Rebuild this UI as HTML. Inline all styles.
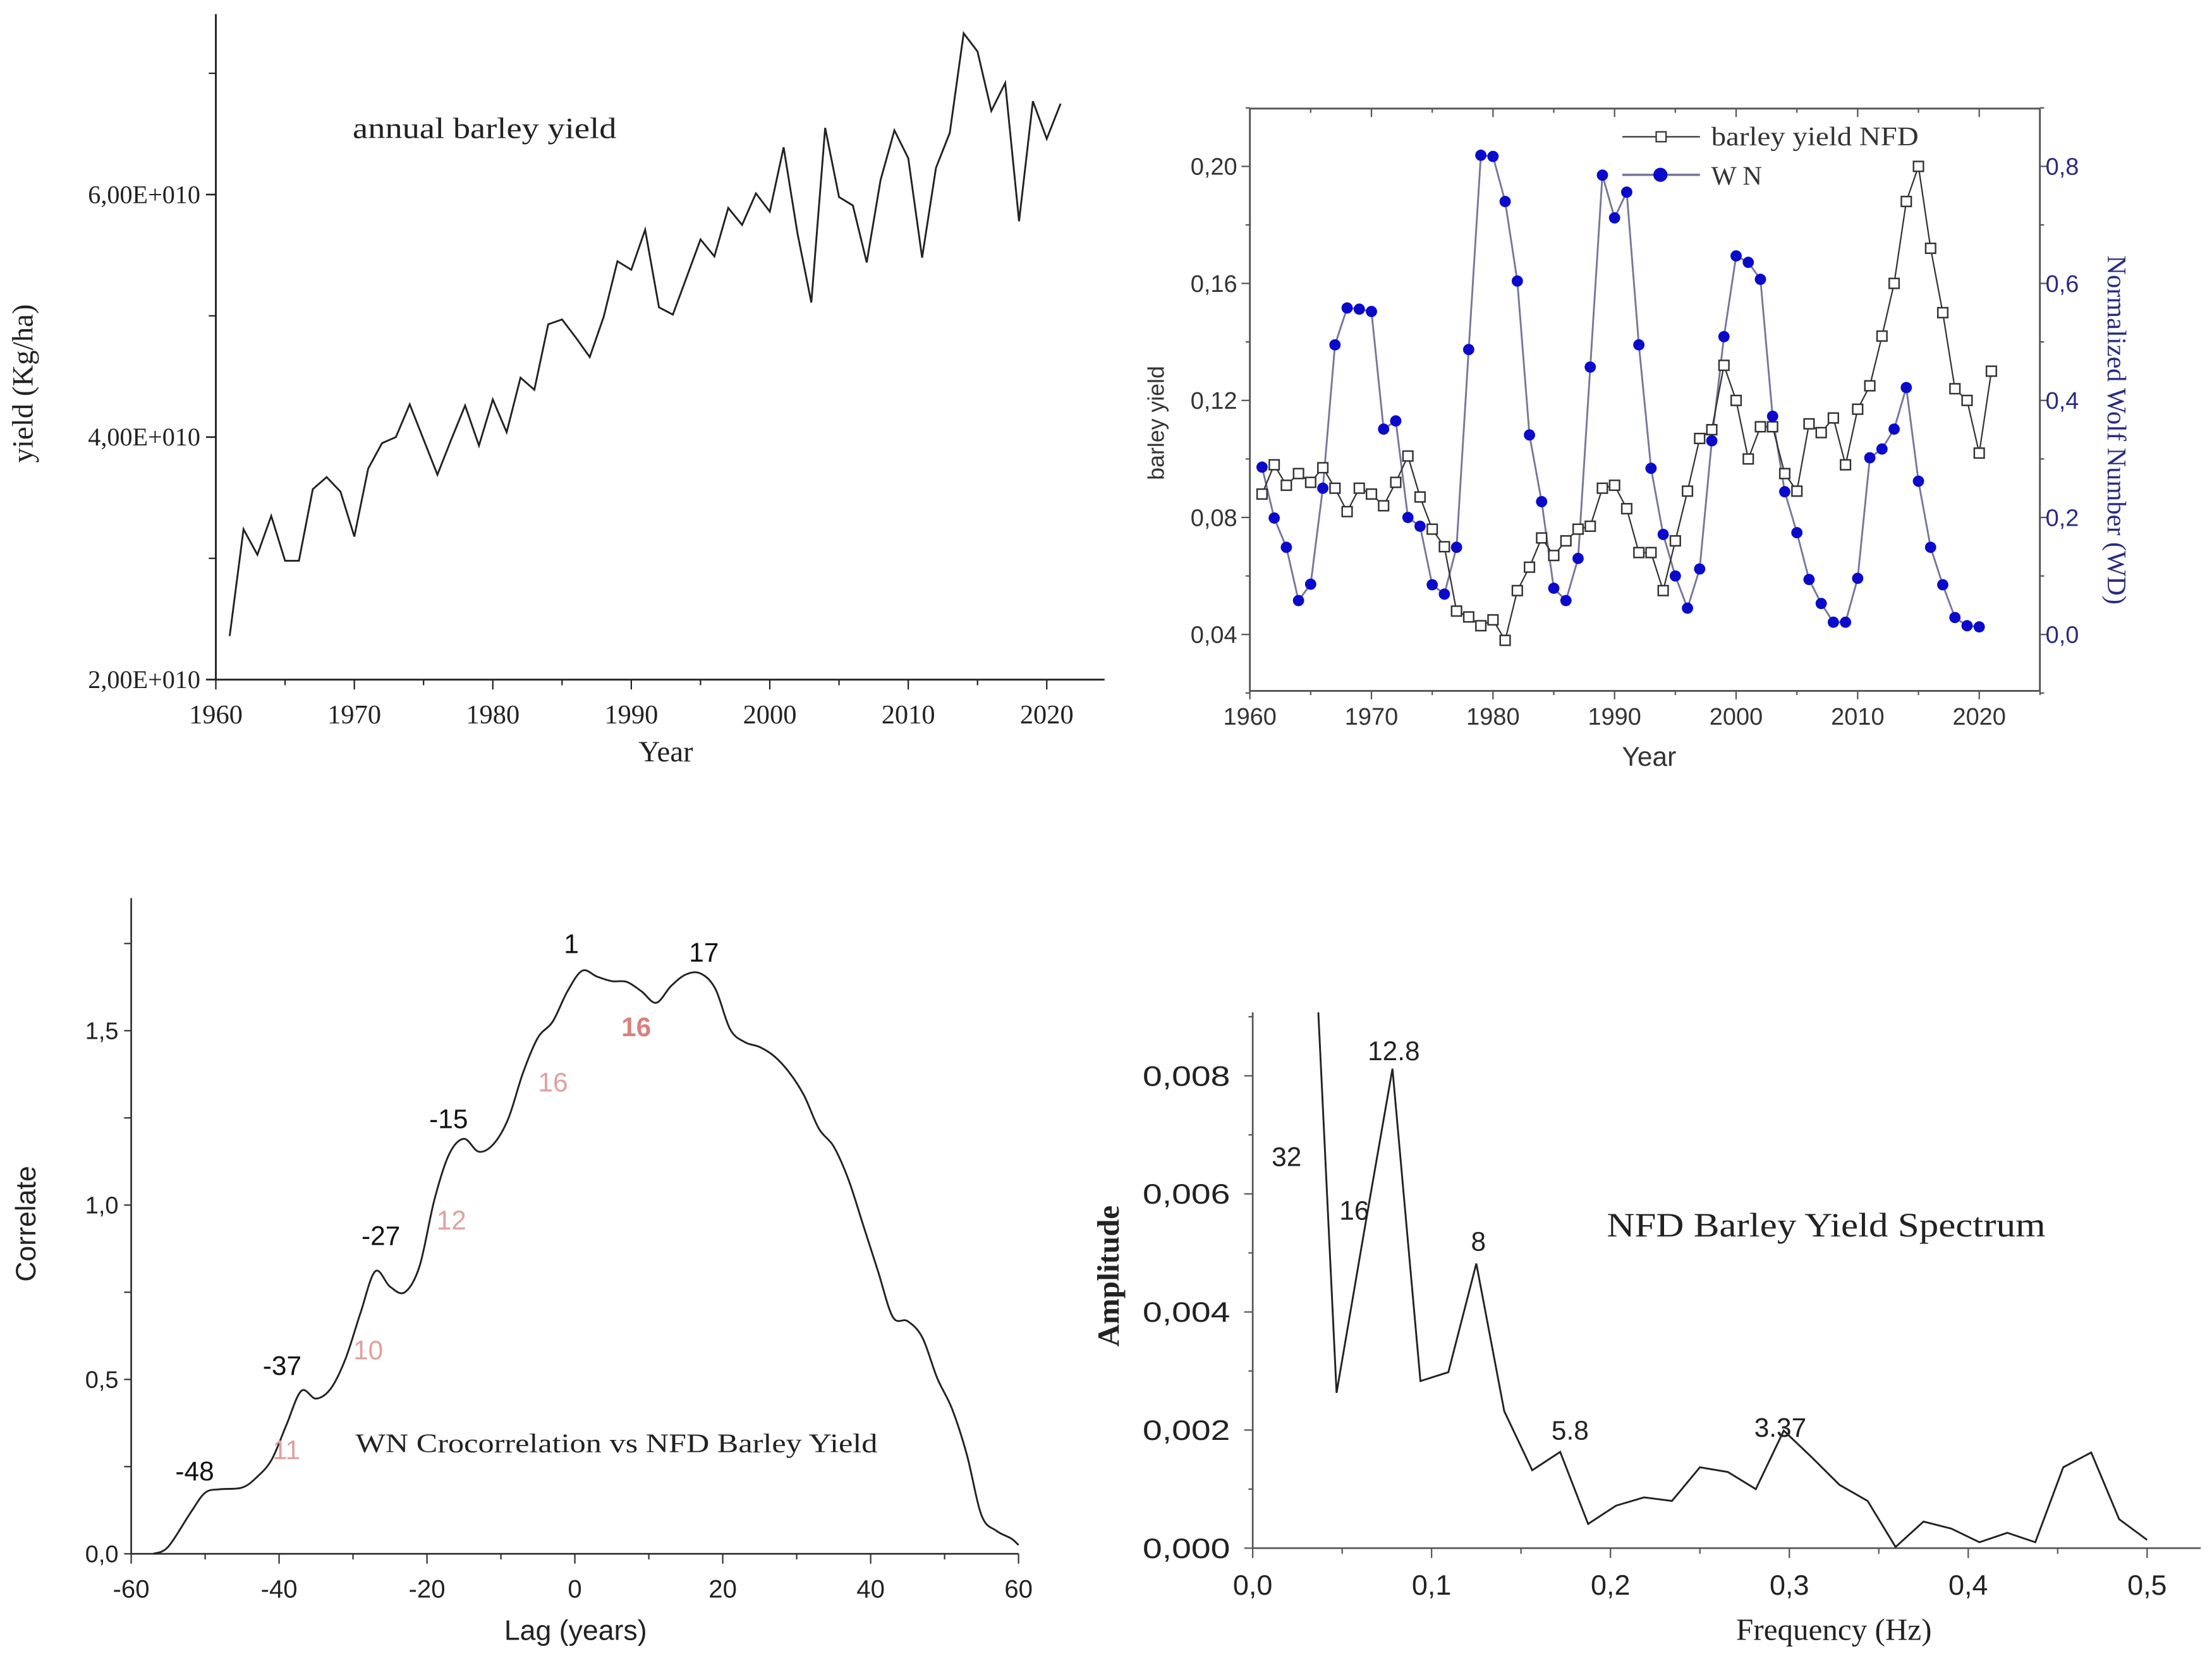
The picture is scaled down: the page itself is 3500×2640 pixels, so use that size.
<!DOCTYPE html>
<html><head><meta charset="utf-8"><style>
html,body{margin:0;padding:0;background:#fff;}
svg{display:block;}
.serif{font-family:"Liberation Serif",serif;}
.sans{font-family:"Liberation Sans",sans-serif;}
</style></head><body>
<svg id="fig" width="3500" height="2640" viewBox="0 0 1568 1183" preserveAspectRatio="none" xmlns="http://www.w3.org/2000/svg">
<rect x="0" y="0" width="1568" height="1183" fill="#fff"/>
<g id="p1"></g>
<g id="p2"></g>
<g id="p3"></g>
<g id="p4"></g>
</svg>
<script>
// ---------- Panel 1 data ----------
const yieldYears = [];
for (let y = 1961; y <= 2021; y++) yieldYears.push(y);
const yieldValues = [2.36,3.24,3.03,3.35,2.98,2.98,3.57,3.67,3.55,3.18,3.74,3.95,4.0,4.27,3.98,3.69,3.98,4.26,3.93,4.31,4.04,4.49,4.39,4.93,4.97,4.82,4.66,4.99,5.45,5.38,5.71,5.07,5.01,5.32,5.63,5.49,5.89,5.75,6.01,5.86,6.39,5.68,5.11,6.55,5.98,5.91,5.44,6.12,6.53,6.30,5.48,6.22,6.51,7.33,7.18,6.69,6.92,5.78,6.77,6.46,6.75];
const yieldTickLabels = ["2,00E+010","4,00E+010","6,00E+010"];
const yieldTickValues = [2,4,6];
const yearTicks = [1960,1970,1980,1990,2000,2010,2020];

// ---------- Panel 2 data ----------
const nfdValues = [.088,.098,.091,.095,.092,.097,.090,.082,.090,.088,.084,.092,.101,.087,.076,.070,.048,.046,.043,.045,.038,.055,.063,.073,.067,.072,.076,.077,.090,.091,.083,.068,.068,.055,.072,.089,.107,.110,.132,.120,.100,.111,.111,.095,.089,.112,.109,.114,.098,.117,.125,.142,.160,.188,.200,.172,.150,.124,.120,.102,.130];
const wnValues = [0.286,0.199,0.149,0.058,0.086,0.25,0.495,0.558,0.556,0.552,0.351,0.365,0.20,0.185,0.085,0.069,0.149,0.487,0.819,0.817,0.74,0.604,0.341,0.227,0.079,0.058,0.13,0.457,0.785,0.712,0.756,0.495,0.284,0.171,0.10,0.045,0.112,0.331,0.509,0.647,0.636,0.607,0.373,0.244,0.174,0.094,0.053,0.021,0.021,0.096,0.302,0.317,0.351,0.422,0.262,0.149,0.085,0.029,0.015,0.013];
const nfdTicks = [0.04,0.08,0.12,0.16,0.20];
const nfdTickLabels = ["0,04","0,08","0,12","0,16","0,20"];
const wnTicks = [0,0.2,0.4,0.6,0.8];
const wnTickLabels = ["0,0","0,2","0,4","0,6","0,8"];

// ---------- Panel 3 data ----------
const lagValues = [-57,-55,-52,-50,-48,-45,-43,-41,-39,-37,-35,-33,-31,-29,-27,-25,-23,-21,-19,-17,-15,-13,-11,-9,-7,-5,-3,-1,1,3,5,7,9,11,13,15,17,19,21,23,25,27,29,31,33,35,37,39,41,43,45,47,49,51,53,55,57,59,60];
const corrValues = [0,0.02,0.117,0.175,0.185,0.19,0.22,0.27,0.37,0.467,0.445,0.474,0.56,0.69,0.81,0.766,0.75,0.825,1.015,1.146,1.19,1.153,1.175,1.248,1.38,1.48,1.526,1.613,1.672,1.655,1.642,1.64,1.613,1.58,1.628,1.661,1.664,1.62,1.504,1.467,1.453,1.426,1.38,1.314,1.219,1.168,1.073,0.942,0.81,0.679,0.667,0.62,0.504,0.416,0.285,0.11,0.066,0.044,0.025];
const lagTicks = [-60,-40,-20,0,20,40,60];
const corrTicks = [0,0.5,1.0,1.5];
const corrTickLabels = ["0,0","0,5","1,0","1,5"];

// ---------- Panel 4 data ----------
const freqValues = [0.03125,0.046875,0.0625,0.078125,0.09375,0.109375,0.125,0.140625,0.15625,0.171875,0.1875,0.203125,0.21875,0.234375,0.25,0.265625,0.28125,0.296875,0.3125,0.328125,0.34375,0.359375,0.375,0.390625,0.40625,0.421875,0.4375,0.453125,0.46875,0.484375,0.5];
const ampValues = [0.0125,0.00263,0.0054,0.00812,0.00283,0.00298,0.00482,0.00232,0.00132,0.00163,0.00041,0.00072,0.00086,0.0008,0.00137,0.00129,0.001,0.00199,0.00154,0.00107,0.0008,0.00002,0.00045,0.00033,0.0001,0.00026,0.0001,0.00137,0.00162,0.00049,0.00014];
const freqTicks = [0,0.1,0.2,0.3,0.4,0.5];
const freqTickLabels = ["0,0","0,1","0,2","0,3","0,4","0,5"];
const ampTicks = [0,0.002,0.004,0.006,0.008];
const ampTickLabels = ["0,000","0,002","0,004","0,006","0,008"];

const NS = "http://www.w3.org/2000/svg";
function mk(parent, tag, attrs, text) {
  const e = document.createElementNS(NS, tag);
  for (const k in attrs) e.setAttribute(k, attrs[k]);
  if (text !== undefined) e.textContent = text;
  parent.appendChild(e);
  return e;
}
function lin(d0, d1, r0, r1) { return v => r0 + (v - d0) * (r1 - r0) / (d1 - d0); }
function pathD(xs, ys, fx, fy) { return xs.map((x, i) => (i ? "L" : "M") + fx(x).toFixed(2) + "," + fy(ys[i]).toFixed(2)).join(""); }

// ================= Panel 1 =================
(function () {
  const g = document.getElementById("p1");
  const X = lin(1960, 2020, 153, 742), Y = lin(2, 6, 482, 138);
  let e;
  e = mk(g, "line", {x1:153, y1:10, x2:153, y2:482, stroke:"#222", "stroke-width":1.3});
   
  e = mk(g, "line", {x1:153, y1:482, x2:783, y2:482, stroke:"#222", "stroke-width":1.3});
   
  for (let v = 2; v <= 7; v++) mk(g, "line", {x1:148, y1:Y(v), x2:153, y2:Y(v), stroke:"#222", "stroke-width":1});
  yieldTickValues.forEach((v, i) => {
    mk(g, "line", {x1:146, y1:Y(v), x2:153, y2:Y(v), stroke:"#222", "stroke-width":1.2});
    e = mk(g, "text", {x:142, y:Y(v) + 6, "text-anchor":"end", "font-size":18, class:"serif", fill:"#222"}, yieldTickLabels[i]);
     
  });
  for (let yr = 1960; yr <= 2020; yr += 5) mk(g, "line", {x1:X(yr), y1:482, x2:X(yr), y2:yr % 10 ? 486 : 489, stroke:"#222", "stroke-width":1});
  yearTicks.forEach(t => {
    e = mk(g, "text", {x:X(t), y:513, "text-anchor":"middle", "font-size":19, class:"serif", fill:"#222"}, String(t));
     
  });
  e = mk(g, "path", {d:pathD(yieldYears, yieldValues, X, Y), fill:"none", stroke:"#222", "stroke-width":1.3, "stroke-linejoin":"miter"});
   
  e = mk(g, "text", {x:250, y:98, "font-size":21, class:"serif", fill:"#222", textLength:187, lengthAdjust:"spacingAndGlyphs"}, "annual barley yield");
   
  e = mk(g, "text", {x:472, y:540, "text-anchor":"middle", "font-size":21, class:"serif", fill:"#222"}, "Year");
   
  e = mk(g, "text", {x:0, y:0, "text-anchor":"middle", "font-size":21, class:"serif", fill:"#222", transform:"translate(23,272) rotate(-90)"}, "yield (Kg/ha)");
   
})();

// ================= Panel 2 =================
(function () {
  const g = document.getElementById("p2");
  const L = 886, R = 1446, T = 77, B = 490;
  const X = lin(1960, 2020, L, 1403), Y = lin(0.04, 0.20, 450, 118), Y2 = lin(0, 0.8, 450, 118);
  let e;
  e = mk(g, "rect", {x:L, y:T, width:R - L, height:B - T, fill:"none", stroke:"#555", "stroke-width":1.3});
   
  for (let v = 0.02; v <= 0.221; v += 0.02) {
    const major = Math.abs(v / 0.04 - Math.round(v / 0.04)) < 0.01;
    mk(g, "line", {x1:L, y1:Y(v), x2:L - (major ? 6 : 3), y2:Y(v), stroke:"#555", "stroke-width":1});
  }
  nfdTicks.forEach((v, i) => {
    e = mk(g, "text", {x:L - 9, y:Y(v) + 6, "text-anchor":"end", "font-size":17, class:"sans", fill:"#333"}, nfdTickLabels[i]);
     
  });
  for (let v = -0.1; v <= 0.91; v += 0.1) {
    const major = Math.abs(v / 0.2 - Math.round(v / 0.2)) < 0.01;
    mk(g, "line", {x1:R, y1:Y2(v), x2:R + (major ? 6 : 3), y2:Y2(v), stroke:"#555", "stroke-width":1});
  }
  wnTicks.forEach((v, i) => {
    e = mk(g, "text", {x:R + 4, y:Y2(v) + 6, "font-size":17, class:"sans", fill:"#2b2b80"}, wnTickLabels[i]);
     
  });
  for (let yr = 1960; yr <= 2025; yr += 5) {
    const len = yr % 10 ? 3 : 6;
    mk(g, "line", {x1:X(yr), y1:B, x2:X(yr), y2:B + len, stroke:"#555", "stroke-width":1});
    mk(g, "line", {x1:X(yr), y1:T, x2:X(yr), y2:T + len, stroke:"#555", "stroke-width":1});
  }
  yearTicks.forEach(t => {
    e = mk(g, "text", {x:X(t), y:514, "text-anchor":"middle", "font-size":17, class:"sans", fill:"#333"}, String(t));
     
  });
  const nfdYears = nfdValues.map((_, i) => 1961 + i);
  const wnYears = wnValues.map((_, i) => 1961 + i);
  e = mk(g, "path", {d:pathD(wnYears, wnValues, X, Y2), fill:"none", stroke:"#777799", "stroke-width":1.3});
   
  e = mk(g, "path", {d:pathD(nfdYears, nfdValues, X, Y), fill:"none", stroke:"#333", "stroke-width":1});
   
  nfdYears.forEach((yr, i) => {
    const m = mk(g, "rect", {x:X(yr) - 3.5, y:Y(nfdValues[i]) - 3.5, width:7, height:7, fill:"#fff", stroke:"#333", "stroke-width":1.1});
    
    
  });
  wnYears.forEach((yr, i) => {
    const m = mk(g, "circle", {cx:X(yr), cy:Y2(wnValues[i]), r:4, fill:"#0a0acc"});
    
    
  });
  // legend
  const lg = mk(g, "g", {});
   
  mk(lg, "line", {x1:1150, y1:97, x2:1205, y2:97, stroke:"#333", "stroke-width":1});
  mk(lg, "rect", {x:1174, y:93.5, width:7, height:7, fill:"#fff", stroke:"#333", "stroke-width":1});
  e = mk(lg, "text", {x:1213, y:103, "font-size":19, class:"serif", fill:"#333", textLength:147, lengthAdjust:"spacingAndGlyphs"}, "barley yield NFD");
   
  mk(lg, "line", {x1:1150, y1:124, x2:1205, y2:124, stroke:"#777799", "stroke-width":1.6});
  mk(lg, "circle", {cx:1177, cy:124, r:5, fill:"#0a0acc"});
  e = mk(lg, "text", {x:1213, y:131, "font-size":19, class:"serif", fill:"#333"}, "W N");
   
  e = mk(g, "text", {x:1169, y:543, "text-anchor":"middle", "font-size":19, class:"sans", fill:"#333"}, "Year");
   
  e = mk(g, "text", {x:0, y:0, "text-anchor":"middle", "font-size":16, class:"sans", fill:"#333", transform:"translate(825,300) rotate(-90)"}, "barley yield");
   
  e = mk(g, "text", {x:0, y:0, "text-anchor":"middle", "font-size":19, class:"serif", fill:"#2b2b80", transform:"translate(1494,305) rotate(90)"}, "Normalized Wolf Number (WD)");
   
})();

// ================= Panel 3 =================
(function () {
  const g = document.getElementById("p3");
  const X = lin(-60, 60, 93, 722), Y = lin(0, 1.5, 1102, 731);
  let e;
  e = mk(g, "line", {x1:93, y1:637, x2:93, y2:1102, stroke:"#333", "stroke-width":1.2});
   
  e = mk(g, "line", {x1:93, y1:1102, x2:722, y2:1102, stroke:"#333", "stroke-width":1.2});
   
  for (let v = 0; v <= 1.751; v += 0.25) mk(g, "line", {x1:93, y1:Y(v), x2:88, y2:Y(v), stroke:"#333", "stroke-width":1});
  corrTicks.forEach((v, i) => {
    e = mk(g, "text", {x:84, y:Y(v) + 6, "text-anchor":"end", "font-size":17, class:"sans", fill:"#222"}, corrTickLabels[i]);
     
  });
  for (let v = -60; v <= 60; v += 10) mk(g, "line", {x1:X(v), y1:1102, x2:X(v), y2:v % 20 ? 1106 : 1109, stroke:"#333", "stroke-width":1});
  lagTicks.forEach(t => {
    e = mk(g, "text", {x:X(t), y:1133, "text-anchor":"middle", "font-size":18, class:"sans", fill:"#222"}, String(t));
     
  });
  const pts = lagValues.map((l, i) => [X(l), Y(corrValues[i])]);
  let d = "M" + pts[0][0].toFixed(2) + "," + pts[0][1].toFixed(2);
  for (let i = 0; i < pts.length - 1; i++) {
    const p0 = pts[Math.max(0, i - 1)], p1 = pts[i], p2 = pts[i + 1], p3 = pts[Math.min(pts.length - 1, i + 2)];
    const c1 = [p1[0] + (p2[0] - p0[0]) / 6, p1[1] + (p2[1] - p0[1]) / 6];
    const c2 = [p2[0] - (p3[0] - p1[0]) / 6, p2[1] - (p3[1] - p1[1]) / 6];
    d += "C" + c1.map(v => v.toFixed(2)).join(",") + " " + c2.map(v => v.toFixed(2)).join(",") + " " + p2.map(v => v.toFixed(2)).join(",");
  }
  e = mk(g, "path", {d:d, fill:"none", stroke:"#222", "stroke-width":1.3});
   
  const blackLabels = [["-48",138,1050],["-37",200,975],["-27",270,883],["-15",318,800],["1",405,676],["17",499,682]];
  blackLabels.forEach(a => {
    e = mk(g, "text", {x:a[1], y:a[2], "text-anchor":"middle", "font-size":19, class:"sans", fill:"#111"}, a[0]);
     
  });
  const pinkLabels = [["11",203,1035,"normal"],["10",261,964,"normal"],["12",320,872,"normal"],["16",392,774,"normal"],["16",451,735,"bold"]];
  pinkLabels.forEach(a => {
    e = mk(g, "text", {x:a[1], y:a[2], "text-anchor":"middle", "font-size":19, "font-weight":a[3], class:"sans", fill:a[3] === "bold" ? "#d98080" : "#e0a0a0"}, a[0]);
     
  });
  e = mk(g, "text", {x:252, y:1030, "font-size":19, class:"serif", fill:"#222", textLength:370, lengthAdjust:"spacingAndGlyphs"}, "WN Crocorrelation vs NFD Barley Yield");
   
  e = mk(g, "text", {x:408, y:1163, "text-anchor":"middle", "font-size":20, class:"sans", fill:"#222"}, "Lag (years)");
   
  e = mk(g, "text", {x:0, y:0, "text-anchor":"middle", "font-size":20, class:"sans", fill:"#222", transform:"translate(25,868) rotate(-90)"}, "Correlate");
   
})();

// ================= Panel 4 =================
(function () {
  const g = document.getElementById("p4");
  const X = lin(0, 0.5, 888, 1522), Y = lin(0, 0.008, 1098, 763);
  let e;
  mk(g, "defs", {}).innerHTML = '<clipPath id="c4"><rect x="888" y="718" width="680" height="390"/></clipPath>';
  e = mk(g, "line", {x1:888, y1:718, x2:888, y2:1098, stroke:"#555", "stroke-width":1.2});
   
  e = mk(g, "line", {x1:888, y1:1098, x2:1560, y2:1098, stroke:"#555", "stroke-width":1.2});
   
  for (let v = 0; v <= 0.0091; v += 0.001) mk(g, "line", {x1:888, y1:Y(v), x2:Math.round(v * 1000) % 2 ? 885 : 882, y2:Y(v), stroke:"#555", "stroke-width":1});
  ampTicks.forEach((v, i) => {
    e = mk(g, "text", {x:872, y:Y(v) + 7, "text-anchor":"end", "font-size":20, class:"sans", fill:"#222", textLength:62, lengthAdjust:"spacingAndGlyphs"}, ampTickLabels[i]);
     
  });
  for (let v = 0; v <= 0.5501; v += 0.05) mk(g, "line", {x1:X(v), y1:1098, x2:X(v), y2:Math.round(v * 100) % 10 ? 1102 : 1105, stroke:"#555", "stroke-width":1});
  freqTicks.forEach((v, i) => {
    e = mk(g, "text", {x:X(v), y:1131, "text-anchor":"middle", "font-size":20, class:"sans", fill:"#222", textLength:28, lengthAdjust:"spacingAndGlyphs"}, freqTickLabels[i]);
     
  });
  e = mk(g, "path", {d:pathD(freqValues, ampValues, X, Y), fill:"none", stroke:"#222", "stroke-width":1.3, "clip-path":"url(#c4)"});
   
  const peakLabels = [["32",912,827],["16",960,865],["12.8",988,752],["8",1048,887],["5.8",1113,1021],["3.37",1262,1019]];
  peakLabels.forEach(a => {
    e = mk(g, "text", {x:a[1], y:a[2], "text-anchor":"middle", "font-size":19, class:"sans", fill:"#222"}, a[0]);
     
  });
  e = mk(g, "text", {x:1139, y:877, "font-size":24, class:"serif", fill:"#222", textLength:311, lengthAdjust:"spacingAndGlyphs"}, "NFD Barley Yield Spectrum");
   
  e = mk(g, "text", {x:1300, y:1163, "text-anchor":"middle", "font-size":22, class:"serif", fill:"#222"}, "Frequency (Hz)");
   
  e = mk(g, "text", {x:0, y:0, "text-anchor":"middle", "font-size":22, "font-weight":"bold", class:"serif", fill:"#222", transform:"translate(793,905) rotate(-90)"}, "Amplitude");
   
})();
</script>
</body></html>
